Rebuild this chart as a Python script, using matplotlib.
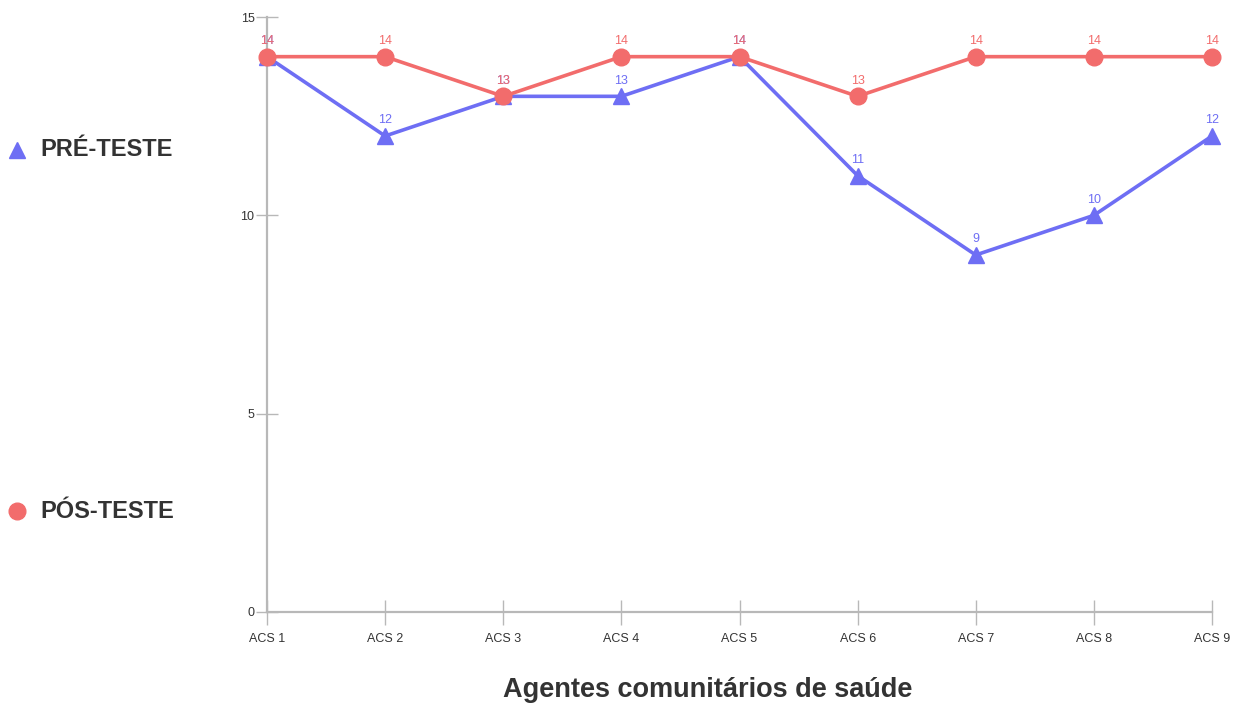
import matplotlib
matplotlib.use("Agg")
import matplotlib.pyplot as plt
from matplotlib.lines import Line2D

# Data
categories = ["ACS 1", "ACS 2", "ACS 3", "ACS 4", "ACS 5", "ACS 6", "ACS 7", "ACS 8", "ACS 9"]
pre_teste = [14, 12, 13, 13, 14, 11, 9, 10, 12]
pos_teste = [14, 14, 13, 14, 14, 13, 14, 14, 14]
y_ticks = [0, 5, 10, 15]

BLUE = "#6e6ef4"
RED = "#f26c6c"
GRAY_AXIS = "#b8b8b8"
TEXT = "#333333"

plt.rcParams["font.family"] = ["Liberation Sans", "DejaVu Sans"]

fig = plt.figure(figsize=(12.39, 7.06), dpi=100)
ax = fig.add_axes([267 / 1239, 1 - 612 / 706, (1212 - 267) / 1239, (612 - 17) / 706])

x = list(range(len(categories)))
ax.plot(x, pre_teste, color=BLUE, lw=2.6, marker="^", ms=12, zorder=3, clip_on=False)
ax.plot(x, pos_teste, color=RED, lw=2.6, marker="o", ms=12, zorder=4, clip_on=False)

for xi, v in zip(x, pre_teste):
    ax.annotate(str(v), (xi, v), xytext=(0, 7), textcoords="offset points",
                ha="center", va="bottom", color=BLUE, fontsize=9, zorder=5)
for xi, v in zip(x, pos_teste):
    ax.annotate(str(v), (xi, v), xytext=(0, 7), textcoords="offset points",
                ha="center", va="bottom", color=RED, fontsize=9, zorder=6)

ax.set_xlim(0, len(categories) - 1)
ax.set_ylim(0, 15)
for s in ["top", "right"]:
    ax.spines[s].set_visible(False)
for s in ["left", "bottom"]:
    ax.spines[s].set_color(GRAY_AXIS)
    ax.spines[s].set_linewidth(1.6)

ax.set_yticks(y_ticks)
ax.set_yticklabels([str(t) for t in y_ticks])
ax.tick_params(axis="y", direction="inout", length=16, width=1.0, color=GRAY_AXIS,
               labelsize=9, labelcolor=TEXT, pad=1)
ax.set_xticks(x)
ax.set_xticklabels(categories)
ax.tick_params(axis="x", direction="inout", length=18, width=1.0, color=GRAY_AXIS,
               labelsize=9, labelcolor=TEXT, pad=6)

ax.set_xlabel("Agentes comunitários de saúde", fontsize=19.5, color=TEXT,
              fontweight="bold")
ax.xaxis.set_label_coords((708 - 267) / (1212 - 267), -(690 - 612) / (612 - 17))
ax.xaxis.label.set_verticalalignment("center")

# Legend on the left side
fig.text(40 / 1239, 1 - 150 / 706, "PRÉ-TESTE", fontsize=17, fontweight="bold",
         color=TEXT, va="center", ha="left")
fig.text(40 / 1239, 1 - 511 / 706, "PÓS-TESTE", fontsize=17, fontweight="bold",
         color=TEXT, va="center", ha="left")
fig.add_artist(Line2D([17 / 1239], [1 - 150 / 706], marker="^", ms=12, color=BLUE,
                      transform=fig.transFigure, linestyle="none"))
fig.add_artist(Line2D([17 / 1239], [1 - 511 / 706], marker="o", ms=12, color=RED,
                      transform=fig.transFigure, linestyle="none"))

fig.savefig("out.png", dpi=100)
